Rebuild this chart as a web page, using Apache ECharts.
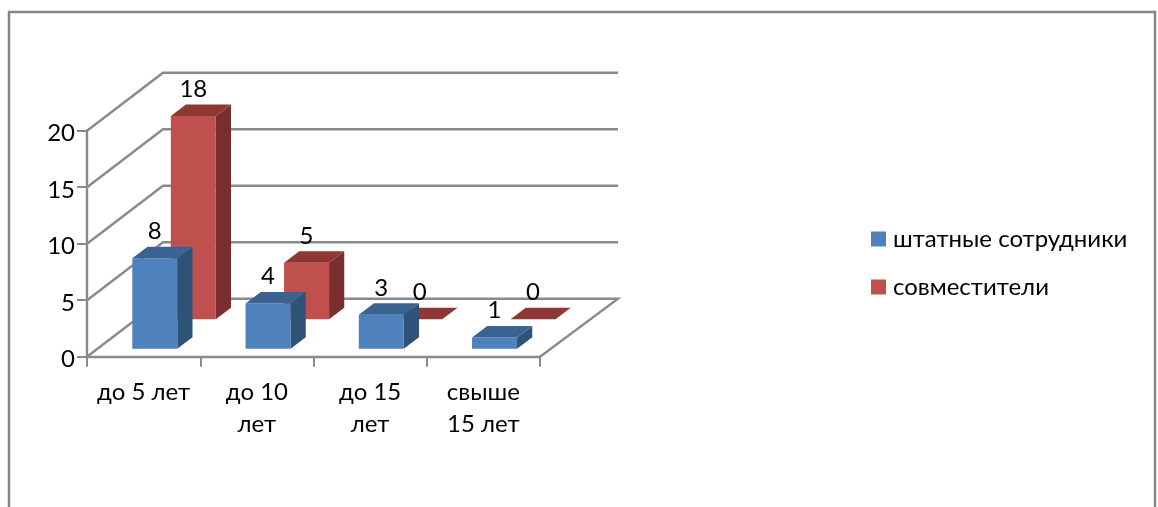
<!DOCTYPE html>
<html>
<head>
<meta charset="utf-8">
<style>html,body{margin:0;padding:0;background:#fff}#c{width:1158px;height:507px}</style>
<script src="https://cdn.jsdelivr.net/npm/echarts@6/dist/echarts.min.js"></script>
</head>
<body>
<div id="c"></div>
<script>
const categories = ['до 5 лет', 'до 10\nлет', 'до 15\nлет', 'свыше\n15 лет'];
const staffName = 'штатные сотрудники';
const partTimeName = 'совместители';
const staffValues = [8, 4, 3, 1];
const partTimeValues = [18, 5, 0, 0];
const yTicks = [0, 5, 10, 15, 20];

const FONT = 'Lato, "Open Sans", sans-serif';
const GRID_COLOR = '#8a8a8a';
const DEPTH_X = 76, DEPTH_Y = -58;

function box(row, colors) {
  return function (params, api) {
    const i = api.value(0), v = api.value(1);
    const base = api.coord([i, 0]);
    const top = api.coord([i, v]);
    const band = api.size([1, 0])[0];
    const w = 45;
    const dx = 15.2, dy = -11.5;
    const x0 = base[0] - band / 2 + 34.8 + row.dx;
    const x1 = x0 + w;
    const yb = base[1] + row.dy;
    const yt = top[1] + row.dy;
    const children = [];
    if (v > 0) {
      children.push({ type: 'polygon', shape: { points: [[x1, yb], [x1 + dx, yb + dy], [x1 + dx, yt + dy], [x1, yt]] }, style: { fill: colors.side } });
      children.push({ type: 'rect', shape: { x: x0, y: yt, width: w, height: yb - yt }, style: { fill: colors.front } });
    }
    children.push({ type: 'polygon', shape: { points: [[x0, yt], [x1, yt], [x1 + dx, yt + dy], [x0 + dx, yt + dy]] }, style: { fill: colors.top } });
    children.push({
      type: 'text',
      style: { text: String(v), x: x0 + w / 2, y: yt - 27, align: 'center', verticalAlign: 'middle', font: '24px ' + FONT, fill: '#000' }
    });
    return { type: 'group', children };
  };
}

function wallLine(params, api) {
  const t = api.value(1);
  const y = api.coord([0, t])[1];
  const xa = params.coordSys.x, xb = xa + params.coordSys.width;
  const pts = t === 0
    ? [[xa, y], [xa + DEPTH_X, y + DEPTH_Y], [xb + 78, y + DEPTH_Y], [xb, y]]
    : [[xa, y], [xa + DEPTH_X, y + DEPTH_Y], [xb + 78, y + DEPTH_Y]];
  return { type: 'polyline', shape: { points: pts }, style: { fill: 'none', stroke: GRID_COLOR, lineWidth: 2.4 } };
}

const chart = echarts.init(document.getElementById('c'), null, { renderer: 'canvas' });
chart.setOption({
  animation: false,
  backgroundColor: '#fff',
  graphic: [{
    type: 'rect', z: -1, silent: true,
    shape: { x: 9, y: 12, width: 1146, height: 560 },
    style: { fill: 'none', stroke: '#868686', lineWidth: 2.5 }
  }],
  grid: { left: 87, top: 130.7, width: 453, height: 226 },
  xAxis: {
    type: 'category', data: categories,
    axisLine: { lineStyle: { color: GRID_COLOR, width: 2.4 } },
    axisTick: { show: true, alignWithLabel: false, length: 10, lineStyle: { color: GRID_COLOR, width: 2 } },
    axisLabel: { interval: 0, color: '#000', fontFamily: FONT, fontSize: 24, lineHeight: 32, margin: 20 }
  },
  yAxis: {
    type: 'value', min: 0, max: 20, interval: 5,
    axisLine: { show: true, lineStyle: { color: GRID_COLOR, width: 2.4 } },
    axisTick: { show: true, length: 10, lineStyle: { color: GRID_COLOR, width: 2 } },
    axisLabel: { color: '#000', fontFamily: FONT, fontSize: 24, margin: 12, verticalAlign: 'top', lineHeight: 6 },
    splitLine: { show: false }
  },
  legend: {
    orient: 'vertical', left: 866, top: 222, itemWidth: 15, itemHeight: 15, itemGap: 24,
    icon: 'rect', selectedMode: false,
    data: [staffName, partTimeName],
    textStyle: { color: '#000', fontFamily: FONT, fontSize: 24, padding: [0, 0, 0, 2] }
  },
  series: [
    { type: 'custom', name: 'wall', silent: true, clip: false, z: 1, renderItem: wallLine,
      encode: { x: 0, y: 1 }, data: yTicks.map(t => [0, t]) },
    { type: 'custom', name: partTimeName, clip: false, z: 2, itemStyle: { color: '#c0504d' },
      renderItem: box({ dx: 49, dy: -37.4 }, { front: '#c0504d', side: '#7a2f2e', top: '#8e3836' }),
      encode: { x: 0, y: 1 }, data: partTimeValues.map((v, i) => [i, v]) },
    { type: 'custom', name: staffName, clip: false, z: 3, itemStyle: { color: '#4f81bd' },
      renderItem: box({ dx: 10.5, dy: -8 }, { front: '#4f81bd', side: '#2f5278', top: '#3b6391' }),
      encode: { x: 0, y: 1 }, data: staffValues.map((v, i) => [i, v]) }
  ]
});
</script>
</body>
</html>
